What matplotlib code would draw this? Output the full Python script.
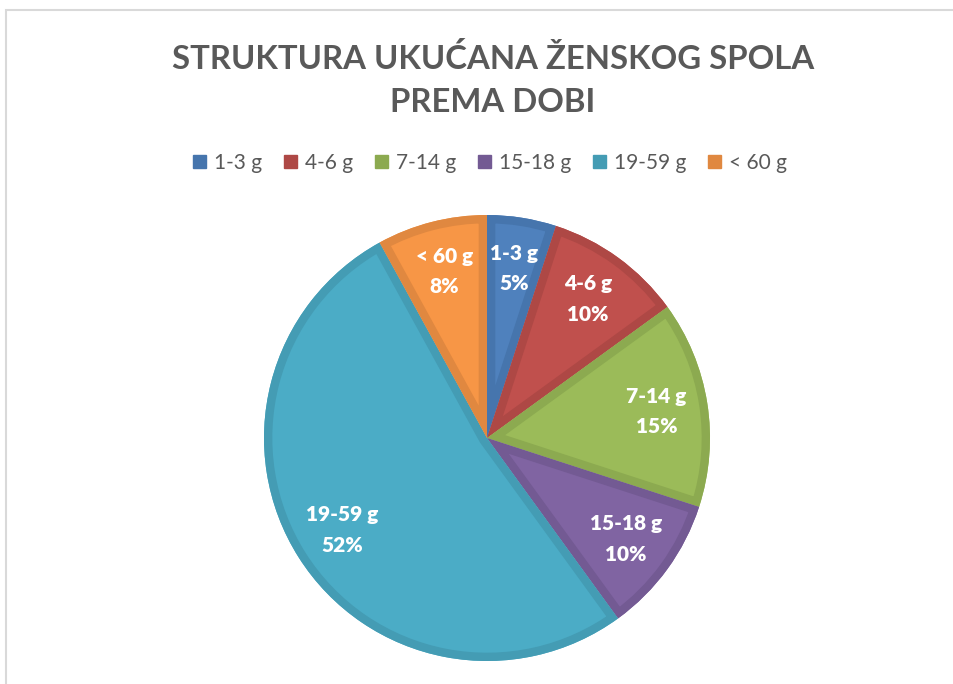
import matplotlib.pyplot as plt
import matplotlib.patches as mpatches
import numpy as np

categories = ["1-3 g", "4-6 g", "7-14 g", "15-18 g", "19-59 g", "< 60 g"]
values = [5, 10, 15, 10, 52, 8]
fill_colors = ["#4F81BD", "#C0504D", "#9BBB59", "#8064A2", "#4BACC6", "#F79646"]
edge_colors = ["#4675AD", "#AE4845", "#8CAA50", "#735A93", "#449CB4", "#E08840"]

plt.rcParams["font.family"] = ["Lato", "DejaVu Sans"]

W, H = 954, 684
fig = plt.figure(figsize=(W / 100, H / 100), dpi=100)

# chart frame
fig.patches.append(mpatches.Rectangle((6 / W, -0.1), 1.2, 1 - 10 / H + 0.1,
                                      transform=fig.transFigure, fill=False,
                                      edgecolor="#D9D9D9", linewidth=1.5))

cx, cy, r = 487, 438, 223
ax = fig.add_axes([(cx - r) / W, (H - cy - r) / H, 2 * r / W, 2 * r / H])
ax.set_xlim(-1, 1)
ax.set_ylim(-1, 1)
wedges, _ = ax.pie(values, colors=fill_colors, startangle=90, counterclock=False,
                   radius=1, wedgeprops=dict(linewidth=0))
# inner border band: thick darker stroke clipped to the wedge itself
for w, ec in zip(wedges, edge_colors):
    band = mpatches.Wedge(w.center, w.r, w.theta1, w.theta2, facecolor="none",
                          edgecolor=ec, linewidth=12)
    ax.add_patch(band)
    band.set_clip_path(w.get_path(), w.get_transform())

for w, name, v in zip(wedges, categories, values):
    ang = np.deg2rad((w.theta1 + w.theta2) / 2)
    d = 0.77
    ax.text(d * np.cos(ang), d * np.sin(ang), f"{name}\n{v}%", ha="center", va="center",
            color="white", fontsize=15, fontweight="heavy", linespacing=1.7)
ax.set_xlim(-1, 1)
ax.set_ylim(-1, 1)
ax.set_aspect("equal")
ax.axis("off")

fig.text(493 / W, 1 - 80 / H, "STRUKTURA UKUĆANA ŽENSKOG SPOLA\nPREMA DOBI",
         ha="center", va="center", fontsize=23.7, fontweight="bold", color="#595959",
         linespacing=1.6)

handles = [mpatches.Patch(color=c, label=l) for c, l in zip(edge_colors, categories)]
fig.legend(handles=handles, loc="center", bbox_to_anchor=(490 / W, 1 - 163 / H), ncol=6,
           frameon=False, fontsize=15, labelcolor="#595959", handlelength=0.62,
           handleheight=0.62, handletextpad=0.38, columnspacing=1.05)

fig.savefig("out.png", dpi=100)
plt.close()
